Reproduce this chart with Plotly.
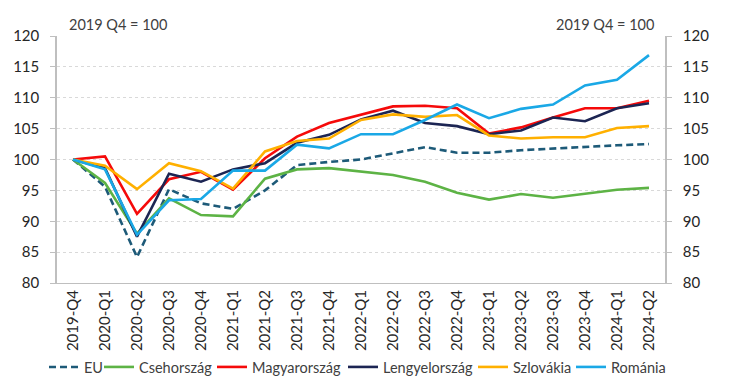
import plotly.graph_objects as go

quarters = ["2019-Q4", "2020-Q1", "2020-Q2", "2020-Q3", "2020-Q4", "2021-Q1", "2021-Q2",
            "2021-Q3", "2021-Q4", "2022-Q1", "2022-Q2", "2022-Q3", "2022-Q4", "2023-Q1",
            "2023-Q2", "2023-Q3", "2023-Q4", "2024-Q1", "2024-Q2"]

eu =      [100, 95.6, 84.2, 95.2, 92.9, 92.0, 95.0, 99.1, 99.6, 100.0, 101.0, 102.0, 101.1, 101.1, 101.5, 101.8, 102.0, 102.3, 102.5]
cz =      [100, 96.2, 88.0, 93.7, 91.0, 90.8, 96.9, 98.4, 98.6, 98.1, 97.5, 96.4, 94.6, 93.5, 94.4, 93.8, 94.5, 95.1, 95.4]
hu =      [100, 100.5, 91.2, 96.8, 98.0, 95.1, 100.2, 103.7, 105.9, 107.2, 108.6, 108.7, 108.3, 104.2, 105.2, 106.8, 108.3, 108.3, 109.5]
pl =      [100, 98.6, 87.5, 97.7, 96.4, 98.4, 99.4, 102.7, 104.0, 106.5, 107.9, 105.9, 105.4, 104.1, 104.7, 106.8, 106.2, 108.3, 109.1]
sk =      [100, 99.0, 95.2, 99.4, 98.1, 95.3, 101.3, 103.0, 103.4, 106.4, 107.3, 106.9, 107.2, 103.9, 103.4, 103.6, 103.6, 105.1, 105.4]
ro =      [100, 98.4, 87.8, 93.4, 93.6, 98.2, 98.2, 102.4, 101.8, 104.1, 104.1, 106.4, 108.9, 106.7, 108.2, 108.9, 112.0, 112.9, 116.9]

series_names = ["EU", "Csehország", "Magyarország", "Lengyelország", "Szlovákia", "Románia"]
series_vals = [eu, cz, hu, pl, sk, ro]
colors = ["#1D5A78", "#5DB345", "#F50A0A", "#1C2553", "#FFB000", "#1AA8E6"]

# page offset introduced by the default body margin of the written HTML page
OFF = 8
# left edge (px, in the screenshot) of each legend entry's text in the reference
legend_text_x = [84, 139, 252, 383, 513, 611]

W, H = 730, 390
font_family = "Lato, 'Open Sans', sans-serif"
legend_font = dict(family=font_family, size=14.5, color="#404040")

fig = go.Figure()
legend_layout = {}
for i, (name, vals, col) in enumerate(zip(series_names, series_vals, colors)):
    lg = "legend" if i == 0 else f"legend{i + 1}"
    fig.add_trace(go.Scatter(
        x=quarters, y=vals, name=name, mode="lines", legend=lg,
        line=dict(color=col, width=2.6, dash="7px,4px" if name == "EU" else "solid"),
    ))
    legend_layout[lg] = dict(
        orientation="h", xref="container", yref="container",
        x=(legend_text_x[i] - OFF - 40) / W, xanchor="left",
        y=(H - (367 - OFF)) / H, yanchor="middle",
        font=legend_font, itemwidth=30, bgcolor="rgba(0,0,0,0)",
    )

# invisible carrier trace so the right-hand axis is drawn
fig.add_trace(go.Scatter(x=quarters, y=eu, yaxis="y2", mode="lines", showlegend=False,
                         line=dict(width=0), opacity=0, hoverinfo="skip"))

axis_font = dict(family=font_family, size=15, color="#262626")

fig.update_layout(
    width=W, height=H,
    margin=dict(l=57 - OFF, r=W - (665 - OFF), t=36 - OFF, b=H - (283 - OFF)),
    paper_bgcolor="white", plot_bgcolor="white",
    font=dict(family=font_family, color="#262626"),
    showlegend=True,
    xaxis=dict(type="category", range=[-0.5, 18.5], tickangle=-90, automargin=False,
               tickfont=dict(family=font_family, size=15, color="#262626"),
               showgrid=False, showline=True, linecolor="#BFBFBF", linewidth=1,
               ticks="", fixedrange=True),
    yaxis=dict(range=[80, 120], dtick=5, tickfont=axis_font, automargin=False,
               showgrid=True, gridcolor="#D9D9D9", griddash="dot", gridwidth=1,
               showline=True, linecolor="#BFBFBF", linewidth=1.5, ticklabelstandoff=8,
               ticks="outside", ticklen=5, tickcolor="#BFBFBF", zeroline=False),
    yaxis2=dict(range=[80, 120], dtick=5, tickfont=axis_font, overlaying="y", side="right",
                automargin=False, showgrid=False, showline=True, linecolor="#BFBFBF", linewidth=1.5,
                ticklabelstandoff=8,
                ticks="outside", ticklen=5, tickcolor="#BFBFBF", zeroline=False),
    annotations=[
        dict(text="2019 Q4 = 100", xref="paper", yref="paper", x=0.016, y=1.0,
             xanchor="left", yanchor="bottom", showarrow=False, yshift=1,
             font=dict(family=font_family, size=14.5, color="#404040")),
        dict(text="2019 Q4 = 100", xref="paper", yref="paper", x=0.985, y=1.0,
             xanchor="right", yanchor="bottom", showarrow=False, yshift=1,
             font=dict(family=font_family, size=14.5, color="#404040")),
    ],
    **legend_layout,
)

fig.write_html("out.html")
